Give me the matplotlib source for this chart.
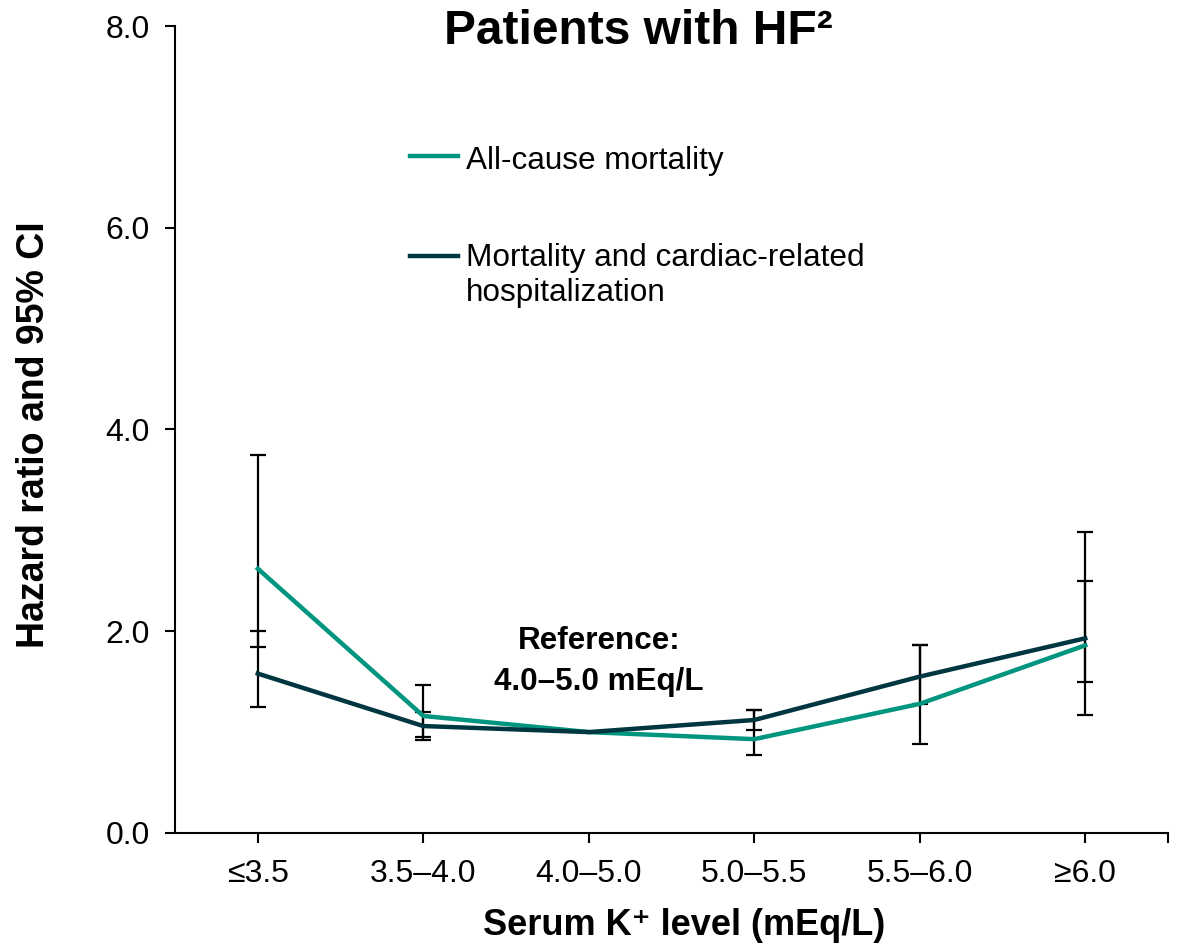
import matplotlib
matplotlib.use("Agg")
import matplotlib.pyplot as plt
from matplotlib.lines import Line2D

plt.rcParams["font.family"] = ["Liberation Sans", "DejaVu Sans"]

# Serum potassium categories and hazard ratios with 95% CI
categories = ["≤3.5", "3.5–4.0", "4.0–5.0", "5.0–5.5", "5.5–6.0", "≥6.0"]

allcause_hr = [2.62, 1.16, 1.00, 0.93, 1.28, 1.86]
allcause_lo = [1.84, 0.95, 1.00, 0.77, 0.88, 1.17]
allcause_hi = [3.75, 1.47, 1.00, 1.22, 1.86, 2.98]

cardiac_hr = [1.58, 1.06, 1.00, 1.12, 1.55, 1.93]
cardiac_lo = [1.25, 0.92, 1.00, 1.02, 1.28, 1.50]
cardiac_hi = [2.00, 1.20, 1.00, 1.22, 1.86, 2.50]

TEAL = "#00957E"
DARK = "#00363F"

fig = plt.figure(figsize=(11.78, 9.5), dpi=100)
ax = fig.add_axes([0.1486, 0.1232, 0.8429, 0.8494])

x = list(range(len(categories)))


def draw_series(hr, lo, hi, color):
    pts = [i for i in x if hi[i] > lo[i]]
    ax.errorbar(
        pts,
        [hr[i] for i in pts],
        yerr=[[hr[i] - lo[i] for i in pts], [hi[i] - hr[i] for i in pts]],
        fmt="none", ecolor="black", elinewidth=1.6, capsize=6, capthick=1.6,
        zorder=2,
    )
    ax.plot(x, hr, color=color, lw=3.2, zorder=3)


draw_series(allcause_hr, allcause_lo, allcause_hi, TEAL)
draw_series(cardiac_hr, cardiac_lo, cardiac_hi, DARK)

ax.set_xlim(-0.5, 5.5)
ax.set_ylim(0, 8)
ax.set_yticks([0, 2, 4, 6, 8])
ax.set_yticklabels(["0.0", "2.0", "4.0", "6.0", "8.0"])
ax.set_xticks(x)
ax.set_xticklabels(categories)
ax.set_xticks([5.5], minor=True)
ax.tick_params(axis="both", which="both", direction="out", length=7, width=1.5,
               labelsize=23, colors="black")
ax.tick_params(axis="x", pad=12)
ax.tick_params(axis="y", pad=11)
for side in ("top", "right"):
    ax.spines[side].set_visible(False)
for side in ("left", "bottom"):
    ax.spines[side].set_linewidth(1.5)

ax.set_ylabel("Hazard ratio and 95% CI", fontsize=27, fontweight="bold")
ax.yaxis.set_label_coords(-0.124, 0.494)
ax.set_xlabel("Serum K⁺ level (mEq/L)", fontsize=26, fontweight="bold")
ax.xaxis.set_label_coords(0.513, -0.093)
fig.text(0.5415, 0.967, "Patients with HF²", fontsize=34.5, fontweight="bold",
         ha="center", va="center")

# legend entries drawn in axes coordinates
ax.add_line(Line2D([0.237, 0.285], [0.839, 0.839], transform=ax.transAxes,
                   color=TEAL, lw=3.2))
ax.text(0.293, 0.833, "All-cause mortality", transform=ax.transAxes,
        fontsize=22.7, ha="left", va="center")
ax.add_line(Line2D([0.237, 0.285], [0.715, 0.715], transform=ax.transAxes,
                   color=DARK, lw=3.2))
ax.text(0.293, 0.731, "Mortality and cardiac-related\nhospitalization",
        transform=ax.transAxes, fontsize=22.7, ha="left", va="top",
        linespacing=1.2)

ax.text(2.06, 1.70, "Reference:\n4.0–5.0 mEq/L", fontsize=22.6, fontweight="bold",
        ha="center", va="center", linespacing=1.5)

fig.savefig("out.png", dpi=100)
